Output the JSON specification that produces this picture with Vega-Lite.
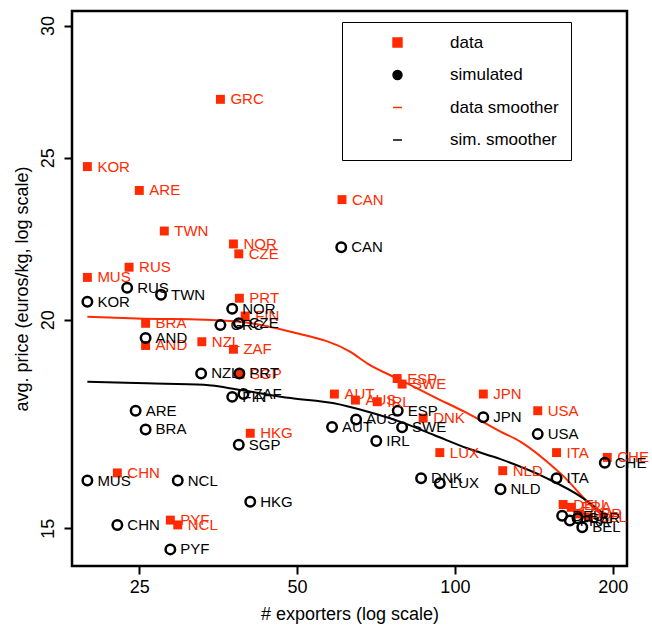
{
  "$schema": "https://vega.github.io/schema/vega-lite/v6.json",
  "width": 555,
  "height": 555,
  "autosize": {"type": "none"},
  "padding": {"left": 72, "top": 11, "right": 25, "bottom": 63},
  "config": {
    "view": {"stroke": "black", "strokeWidth": 2.5},
    "font": "Liberation Sans",
    "axis": {
      "domain": false, "grid": false, "ticks": true, "tickColor": "black", "tickWidth": 2, "tickSize": 8,
      "labelFontSize": 18, "labelColor": "black", "titleFontSize": 18, "titleFontWeight": "normal",
      "titleColor": "black", "labelFont": "Liberation Sans", "titleFont": "Liberation Sans"
    }
  },
  "datasets": {
    "pts": [
      {"country": "GRC", "series": "data", "exporters": 35.7, "price": 27.1},
      {"country": "KOR", "series": "data", "exporters": 19.9, "price": 24.7},
      {"country": "ARE", "series": "data", "exporters": 25.0, "price": 23.9},
      {"country": "TWN", "series": "data", "exporters": 27.9, "price": 22.6},
      {"country": "NOR", "series": "data", "exporters": 37.8, "price": 22.2},
      {"country": "CZE", "series": "data", "exporters": 38.7, "price": 21.9},
      {"country": "RUS", "series": "data", "exporters": 23.9, "price": 21.5},
      {"country": "MUS", "series": "data", "exporters": 19.9, "price": 21.2},
      {"country": "PRT", "series": "data", "exporters": 38.8, "price": 20.6},
      {"country": "FIN", "series": "data", "exporters": 39.8, "price": 20.1},
      {"country": "BRA", "series": "data", "exporters": 25.7, "price": 19.9},
      {"country": "NZL", "series": "data", "exporters": 32.9, "price": 19.4},
      {"country": "AND", "series": "data", "exporters": 25.7, "price": 19.3},
      {"country": "ZAF", "series": "data", "exporters": 37.8, "price": 19.2},
      {"country": "SGP", "series": "data", "exporters": 38.9, "price": 18.55},
      {"country": "HKG", "series": "data", "exporters": 40.7, "price": 17.1},
      {"country": "CAN", "series": "data", "exporters": 60.9, "price": 23.6},
      {"country": "AUT", "series": "data", "exporters": 58.9, "price": 18.05},
      {"country": "AUS", "series": "data", "exporters": 64.6, "price": 17.9},
      {"country": "IRL", "series": "data", "exporters": 71.1, "price": 17.86},
      {"country": "ESP", "series": "data", "exporters": 77.6, "price": 18.44},
      {"country": "SWE", "series": "data", "exporters": 79.3, "price": 18.3},
      {"country": "DNK", "series": "data", "exporters": 87.0, "price": 17.46},
      {"country": "LUX", "series": "data", "exporters": 93.6, "price": 16.65},
      {"country": "JPN", "series": "data", "exporters": 113.3, "price": 18.05},
      {"country": "USA", "series": "data", "exporters": 143.9, "price": 17.64},
      {"country": "ITA", "series": "data", "exporters": 156.3, "price": 16.65},
      {"country": "CHE", "series": "data", "exporters": 195.3, "price": 16.54},
      {"country": "NLD", "series": "data", "exporters": 123.4, "price": 16.24},
      {"country": "DEU", "series": "data", "exporters": 160.9, "price": 15.5},
      {"country": "FRA", "series": "data", "exporters": 166.7, "price": 15.44},
      {"country": "GBR", "series": "data", "exporters": 172.9, "price": 15.3},
      {"country": "BEL", "series": "data", "exporters": 179.9, "price": 15.23},
      {"country": "CHN", "series": "data", "exporters": 22.7, "price": 16.19},
      {"country": "PYF", "series": "data", "exporters": 28.65, "price": 15.17},
      {"country": "NCL", "series": "data", "exporters": 29.6, "price": 15.07},
      {"country": "CAN", "series": "simulated", "exporters": 60.7, "price": 22.1},
      {"country": "KOR", "series": "simulated", "exporters": 19.9, "price": 20.5},
      {"country": "RUS", "series": "simulated", "exporters": 23.7, "price": 20.9},
      {"country": "TWN", "series": "simulated", "exporters": 27.5, "price": 20.7},
      {"country": "NOR", "series": "simulated", "exporters": 37.6, "price": 20.3},
      {"country": "GRC", "series": "simulated", "exporters": 35.7, "price": 19.85},
      {"country": "CZE", "series": "simulated", "exporters": 38.7, "price": 19.9},
      {"country": "AND", "series": "simulated", "exporters": 25.7, "price": 19.5},
      {"country": "NZL", "series": "simulated", "exporters": 32.8, "price": 18.57},
      {"country": "PRT", "series": "simulated", "exporters": 38.8, "price": 18.57},
      {"country": "FIN", "series": "simulated", "exporters": 37.6, "price": 17.98},
      {"country": "ZAF", "series": "simulated", "exporters": 39.5, "price": 18.05},
      {"country": "ARE", "series": "simulated", "exporters": 24.6, "price": 17.64},
      {"country": "BRA", "series": "simulated", "exporters": 25.7, "price": 17.19},
      {"country": "SGP", "series": "simulated", "exporters": 38.7, "price": 16.83},
      {"country": "MUS", "series": "simulated", "exporters": 19.9, "price": 16.02},
      {"country": "NCL", "series": "simulated", "exporters": 29.6, "price": 16.02},
      {"country": "HKG", "series": "simulated", "exporters": 40.7, "price": 15.56},
      {"country": "CHN", "series": "simulated", "exporters": 22.7, "price": 15.07},
      {"country": "PYF", "series": "simulated", "exporters": 28.65, "price": 14.57},
      {"country": "AUT", "series": "simulated", "exporters": 58.3, "price": 17.25},
      {"country": "AUS", "series": "simulated", "exporters": 64.8, "price": 17.43},
      {"country": "IRL", "series": "simulated", "exporters": 70.8, "price": 16.92},
      {"country": "ESP", "series": "simulated", "exporters": 77.8, "price": 17.64},
      {"country": "SWE", "series": "simulated", "exporters": 79.3, "price": 17.24},
      {"country": "DNK", "series": "simulated", "exporters": 86.2, "price": 16.07},
      {"country": "LUX", "series": "simulated", "exporters": 93.6, "price": 15.96},
      {"country": "JPN", "series": "simulated", "exporters": 113.3, "price": 17.48},
      {"country": "NLD", "series": "simulated", "exporters": 122.2, "price": 15.83},
      {"country": "USA", "series": "simulated", "exporters": 143.9, "price": 17.08},
      {"country": "ITA", "series": "simulated", "exporters": 156.3, "price": 16.07},
      {"country": "CHE", "series": "simulated", "exporters": 193.2, "price": 16.42},
      {"country": "DEU", "series": "simulated", "exporters": 160.2, "price": 15.26},
      {"country": "FRA", "series": "simulated", "exporters": 165.7, "price": 15.16},
      {"country": "GBR", "series": "simulated", "exporters": 171.4, "price": 15.21},
      {"country": "BEL", "series": "simulated", "exporters": 175.0, "price": 15.02}
    ],
    "smooth": [
      {"series": "data smoother", "exporters": 19.9, "price": 20.08},
      {"series": "data smoother", "exporters": 24.75, "price": 20.03},
      {"series": "data smoother", "exporters": 33.2, "price": 20.0},
      {"series": "data smoother", "exporters": 39.0, "price": 19.94},
      {"series": "data smoother", "exporters": 48.6, "price": 19.67},
      {"series": "data smoother", "exporters": 63.2, "price": 19.13},
      {"series": "data smoother", "exporters": 68.0, "price": 18.83},
      {"series": "data smoother", "exporters": 78.8, "price": 18.4},
      {"series": "data smoother", "exporters": 91.2, "price": 17.98},
      {"series": "data smoother", "exporters": 105.6, "price": 17.58},
      {"series": "data smoother", "exporters": 122.2, "price": 17.14},
      {"series": "data smoother", "exporters": 133.5, "price": 16.9},
      {"series": "data smoother", "exporters": 159.0, "price": 16.18},
      {"series": "data smoother", "exporters": 189.8, "price": 15.3},
      {"series": "data smoother", "exporters": 195.3, "price": 15.21},
      {"series": "sim. smoother", "exporters": 19.9, "price": 18.36},
      {"series": "sim. smoother", "exporters": 25.86, "price": 18.32},
      {"series": "sim. smoother", "exporters": 33.2, "price": 18.28},
      {"series": "sim. smoother", "exporters": 39.0, "price": 18.15},
      {"series": "sim. smoother", "exporters": 48.6, "price": 17.95},
      {"series": "sim. smoother", "exporters": 58.8, "price": 17.82},
      {"series": "sim. smoother", "exporters": 68.0, "price": 17.62},
      {"series": "sim. smoother", "exporters": 78.8, "price": 17.37},
      {"series": "sim. smoother", "exporters": 91.2, "price": 17.06},
      {"series": "sim. smoother", "exporters": 105.6, "price": 16.75},
      {"series": "sim. smoother", "exporters": 122.2, "price": 16.5},
      {"series": "sim. smoother", "exporters": 149.9, "price": 16.07},
      {"series": "sim. smoother", "exporters": 173.8, "price": 15.67},
      {"series": "sim. smoother", "exporters": 195.3, "price": 15.24}
    ]
  },
  "encoding": {
    "x": {
      "field": "exporters", "type": "quantitative",
      "scale": {"type": "log", "domain": [18.6, 213], "nice": false},
      "axis": {"values": [25, 50, 100, 200], "title": "# exporters (log scale)", "labelPadding": 4, "titlePadding": 9, "labelFlush": false}
    },
    "y": {
      "field": "price", "type": "quantitative",
      "scale": {"type": "log", "domain": [14.24, 30.61], "nice": false},
      "axis": {"values": [15, 20, 25, 30], "title": "avg. price (euros/kg, log scale)", "labelAngle": -90, "labelAlign": "center", "labelBaseline": "bottom", "labelPadding": 7, "titlePadding": 8, "labelFlush": false}
    }
  },
  "layer": [
    {
      "data": {"name": "smooth"},
      "mark": {"type": "line", "strokeWidth": 2, "interpolate": "monotone"},
      "encoding": {
        "color": {"field": "series", "type": "nominal"}
      }
    },
    {
      "data": {"name": "pts"},
      "transform": [{"filter": "datum.series === 'data'"}],
      "mark": {"type": "point", "filled": true, "size": 80, "opacity": 1},
      "encoding": {
        "color": {"field": "series", "type": "nominal"},
        "shape": {"field": "series", "type": "nominal"}
      }
    },
    {
      "data": {"name": "pts"},
      "transform": [{"filter": "datum.series === 'simulated'"}],
      "mark": {"type": "point", "filled": false, "size": 90, "strokeWidth": 2.5, "opacity": 1},
      "encoding": {
        "color": {
          "field": "series", "type": "nominal",
          "scale": {"domain": ["data", "simulated", "data smoother", "sim. smoother"], "range": ["#ff2a00", "black", "#ff2a00", "black"]},
          "legend": {
            "orient": "none", "legendX": 270, "legendY": 11, "title": null,
            "padding": 12, "strokeColor": "black", "fillColor": "white",
            "symbolOffset": 35, "labelOffset": 44, "labelFontSize": 17, "labelColor": "black",
            "labelFont": "Liberation Sans", "rowPadding": 14.5, "symbolSize": 80, "labelLimit": 400
          }
        },
        "shape": {
          "field": "series", "type": "nominal",
          "scale": {"domain": ["data", "simulated", "data smoother", "sim. smoother"], "range": ["square", "circle", "stroke", "stroke"]}
        }
      }
    },
    {
      "data": {"name": "pts"},
      "mark": {"type": "text", "align": "left", "baseline": "middle", "dx": 10, "fontSize": 15, "font": "Liberation Sans"},
      "encoding": {
        "text": {"field": "country"},
        "color": {"field": "series", "type": "nominal"}
      }
    }
  ]
}
